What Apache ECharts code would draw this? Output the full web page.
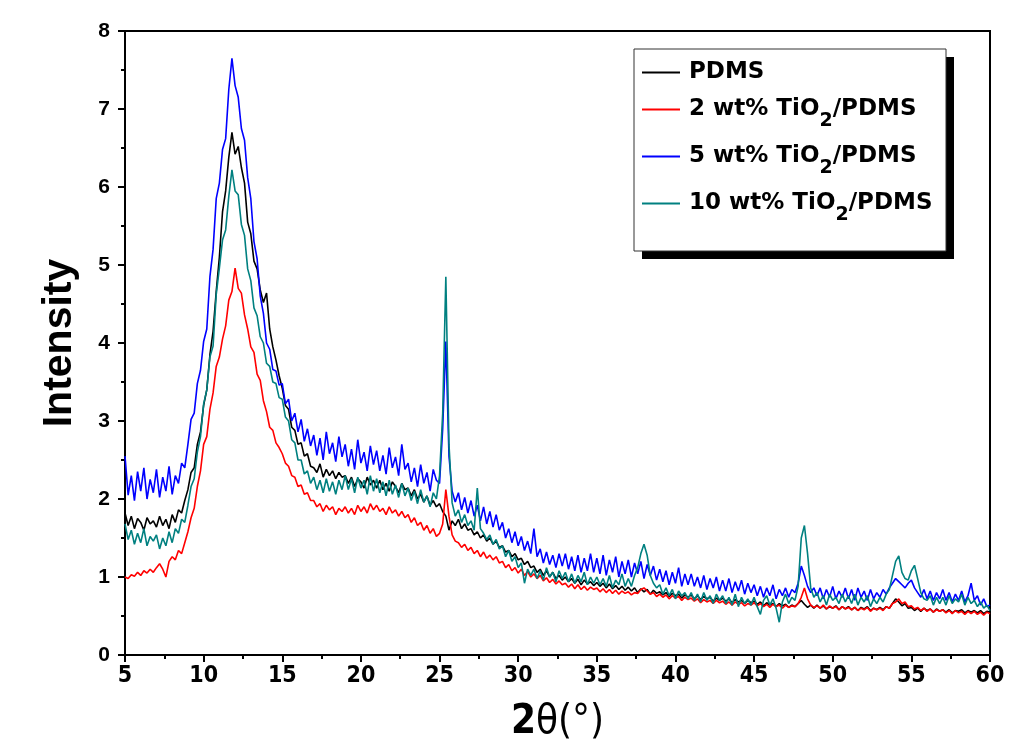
<!DOCTYPE html>
<html>
<head>
<meta charset="utf-8">
<script src="https://cdn.jsdelivr.net/npm/echarts@6/dist/echarts.min.js"></script>
<style>
html,body{margin:0;padding:0;background:#ffffff;}
#chart{width:1012px;height:751px;}
</style>
</head>
<body>
<div id="chart"></div>
<script>
// 2θ sampling grid: 5.0 .. 60.0 step 0.2 (276 points)
const thetaStart = 5;
const thetaStep = 0.2;

const xTicks = [5,10,15,20,25,30,35,40,45,50,55,60];
const yTicks = [0,1,2,3,4,5,6,7,8];

const seriesNames = ['PDMS', '2 wt% TiO2/PDMS', '5 wt% TiO2/PDMS', '10 wt% TiO2/PDMS'];
const seriesColors = ['#000000', '#ff0000', '#0000ff', '#008080'];

const pdms = [
1.82,1.66,1.78,1.62,1.75,1.70,1.60,1.76,1.68,1.72,
1.64,1.78,1.66,1.74,1.62,1.80,1.70,1.86,1.82,1.98,
2.12,2.34,2.40,2.70,2.86,3.20,3.40,3.85,4.15,4.66,
5.10,5.68,5.95,6.38,6.70,6.42,6.52,6.25,6.05,5.55,
5.40,5.05,4.95,4.68,4.52,4.64,4.18,3.95,3.78,3.58,
3.42,3.20,3.15,2.92,2.88,2.70,2.72,2.55,2.58,2.42,
2.40,2.34,2.45,2.28,2.38,2.30,2.36,2.26,2.34,2.28,
2.30,2.20,2.28,2.16,2.26,2.22,2.14,2.28,2.18,2.24,
2.14,2.24,2.12,2.20,2.10,2.22,2.16,2.08,2.20,2.12,
2.14,2.04,2.12,2.00,2.06,1.96,2.04,1.92,1.98,1.90,
1.94,1.84,1.78,1.60,1.72,1.66,1.74,1.62,1.68,1.60,
1.62,1.54,1.58,1.50,1.54,1.46,1.50,1.42,1.46,1.38,
1.40,1.32,1.34,1.26,1.30,1.22,1.24,1.16,1.20,1.12,
1.14,1.06,1.10,1.02,1.08,1.00,1.06,0.98,1.02,0.96,
1.00,0.94,0.98,0.92,0.97,0.90,0.96,0.91,0.94,0.89,
0.93,0.88,0.92,0.86,0.91,0.85,0.89,0.84,0.88,0.83,
0.87,0.82,0.86,0.80,0.85,0.81,0.84,0.78,0.83,0.79,
0.81,0.77,0.80,0.75,0.79,0.76,0.78,0.73,0.77,0.74,
0.77,0.72,0.76,0.71,0.75,0.72,0.74,0.69,0.73,0.70,
0.73,0.69,0.72,0.67,0.71,0.68,0.70,0.66,0.70,0.67,
0.69,0.65,0.68,0.63,0.67,0.64,0.66,0.62,0.66,0.63,
0.65,0.61,0.64,0.62,0.66,0.70,0.65,0.61,0.64,0.60,
0.64,0.60,0.63,0.59,0.62,0.60,0.63,0.58,0.62,0.59,
0.62,0.58,0.61,0.57,0.61,0.59,0.62,0.57,0.60,0.58,
0.61,0.58,0.62,0.60,0.66,0.72,0.68,0.63,0.66,0.60,
0.61,0.57,0.60,0.56,0.60,0.57,0.59,0.55,0.59,0.56,
0.58,0.55,0.58,0.54,0.57,0.56,0.58,0.54,0.57,0.55,
0.57,0.54,0.57,0.53,0.56,0.55
];

const tio2_2 = [
1.00,0.98,1.03,1.01,1.06,1.02,1.08,1.05,1.10,1.06,
1.12,1.17,1.10,1.00,1.20,1.26,1.22,1.34,1.30,1.44,
1.58,1.76,1.88,2.16,2.36,2.70,2.80,3.15,3.36,3.70,
3.82,4.05,4.22,4.55,4.66,4.96,4.70,4.64,4.36,4.18,
3.95,3.88,3.60,3.52,3.26,3.12,2.92,2.88,2.72,2.66,
2.58,2.46,2.42,2.30,2.28,2.16,2.18,2.06,2.08,1.98,
1.98,1.90,1.94,1.84,1.92,1.86,1.90,1.80,1.88,1.84,
1.90,1.82,1.88,1.80,1.92,1.84,1.90,1.82,1.94,1.86,
1.92,1.84,1.88,1.80,1.90,1.82,1.86,1.78,1.84,1.76,
1.80,1.70,1.76,1.66,1.70,1.60,1.66,1.56,1.62,1.52,
1.56,1.68,2.12,1.78,1.54,1.46,1.44,1.38,1.42,1.34,
1.38,1.30,1.34,1.26,1.32,1.24,1.28,1.22,1.26,1.18,
1.20,1.12,1.16,1.08,1.12,1.05,1.10,1.02,1.07,1.00,
1.04,0.98,1.02,0.95,0.99,0.93,0.97,0.91,0.95,0.90,
0.92,0.87,0.91,0.85,0.90,0.84,0.88,0.83,0.87,0.84,
0.86,0.81,0.85,0.80,0.84,0.79,0.83,0.78,0.82,0.79,
0.81,0.77,0.80,0.79,0.84,0.86,0.82,0.78,0.80,0.75,
0.78,0.74,0.77,0.72,0.76,0.73,0.75,0.70,0.74,0.71,
0.73,0.69,0.72,0.67,0.71,0.68,0.70,0.66,0.70,0.67,
0.69,0.65,0.68,0.64,0.68,0.65,0.67,0.63,0.66,0.64,
0.67,0.63,0.66,0.62,0.65,0.61,0.65,0.62,0.64,0.60,
0.64,0.61,0.63,0.62,0.66,0.74,0.86,0.72,0.64,0.61,
0.63,0.60,0.64,0.59,0.63,0.60,0.62,0.58,0.62,0.59,
0.61,0.58,0.61,0.57,0.60,0.58,0.61,0.56,0.60,0.58,
0.60,0.57,0.62,0.60,0.66,0.68,0.72,0.66,0.68,0.62,
0.63,0.59,0.61,0.57,0.60,0.56,0.59,0.55,0.58,0.56,
0.58,0.54,0.57,0.53,0.57,0.54,0.56,0.52,0.56,0.53,
0.56,0.52,0.55,0.51,0.55,0.53
];

const tio2_5 = [
2.55,2.05,2.30,1.98,2.35,2.10,2.40,2.00,2.25,2.08,
2.38,2.02,2.28,2.10,2.42,2.06,2.30,2.20,2.46,2.40,
2.70,3.02,3.10,3.48,3.65,4.02,4.18,4.85,5.20,5.85,
6.05,6.48,6.62,7.25,7.65,7.30,7.15,6.75,6.60,6.12,
5.85,5.30,5.08,4.60,4.38,4.00,3.92,3.66,3.64,3.46,
3.48,3.22,3.28,3.00,3.10,2.86,3.02,2.74,2.90,2.68,
2.82,2.56,2.78,2.50,2.86,2.58,2.72,2.48,2.80,2.54,
2.70,2.42,2.64,2.38,2.76,2.46,2.60,2.36,2.68,2.44,
2.62,2.36,2.56,2.32,2.66,2.40,2.54,2.30,2.70,2.38,
2.46,2.22,2.40,2.16,2.44,2.20,2.34,2.10,2.38,2.24,
2.20,2.90,4.02,2.55,2.10,1.96,2.08,1.86,2.02,1.82,
1.98,1.78,1.92,1.72,1.90,1.68,1.84,1.64,1.80,1.60,
1.70,1.50,1.62,1.44,1.58,1.40,1.52,1.34,1.46,1.30,
1.62,1.26,1.36,1.18,1.32,1.16,1.28,1.12,1.30,1.14,
1.30,1.10,1.26,1.08,1.28,1.06,1.24,1.08,1.30,1.06,
1.24,1.04,1.28,1.02,1.22,1.06,1.26,1.00,1.20,1.04,
1.22,1.00,1.18,1.04,1.20,0.98,1.16,1.02,1.14,0.96,
1.10,0.94,1.08,0.90,1.06,0.92,1.12,0.88,1.04,0.90,
1.04,0.88,1.00,0.86,1.02,0.84,0.98,0.86,1.00,0.82,
0.96,0.82,0.98,0.80,0.94,0.82,0.96,0.78,0.92,0.80,
0.90,0.76,0.88,0.74,0.86,0.76,0.90,0.72,0.84,0.76,
0.86,0.74,0.84,0.80,0.92,1.14,1.02,0.88,0.80,0.86,
0.76,0.86,0.72,0.84,0.74,0.88,0.72,0.82,0.74,0.86,
0.72,0.84,0.70,0.86,0.74,0.82,0.70,0.84,0.72,0.80,
0.74,0.84,0.78,0.86,0.92,0.98,0.94,0.90,0.86,0.92,
0.96,0.86,0.80,0.74,0.84,0.72,0.82,0.70,0.80,0.72,
0.84,0.70,0.80,0.68,0.78,0.70,0.82,0.68,0.76,0.92,
0.70,0.76,0.64,0.72,0.62,0.64
];

const tio2_10 = [
1.68,1.48,1.60,1.42,1.56,1.44,1.62,1.40,1.52,1.46,
1.54,1.36,1.50,1.40,1.58,1.44,1.62,1.56,1.74,1.70,
1.92,2.16,2.26,2.60,2.80,3.22,3.40,3.82,3.96,4.62,
4.96,5.32,5.45,5.88,6.22,5.95,5.90,5.52,5.38,4.95,
4.80,4.45,4.35,4.08,4.00,3.74,3.70,3.50,3.48,3.30,
3.28,3.05,3.00,2.76,2.72,2.50,2.50,2.32,2.36,2.20,
2.28,2.12,2.24,2.08,2.26,2.10,2.22,2.06,2.24,2.12,
2.30,2.12,2.26,2.08,2.28,2.14,2.24,2.06,2.30,2.10,
2.26,2.08,2.22,2.04,2.24,2.06,2.18,2.02,2.20,2.04,
2.14,1.98,2.10,1.94,2.12,1.96,2.04,1.90,2.08,2.00,
2.30,3.10,4.85,2.70,1.95,1.78,1.86,1.70,1.80,1.66,
1.72,1.60,2.14,1.62,1.56,1.48,1.54,1.42,1.48,1.36,
1.40,1.26,1.34,1.20,1.26,1.12,1.18,0.92,1.10,1.02,
1.10,0.98,1.08,0.96,1.12,1.00,1.06,0.94,1.08,0.98,
1.06,0.94,1.04,0.92,1.02,0.94,1.06,0.90,1.00,0.92,
1.00,0.90,0.98,0.88,1.02,0.86,0.96,0.90,1.04,0.88,
0.98,0.88,1.02,1.12,1.30,1.42,1.28,1.02,0.92,0.86,
0.90,0.78,0.86,0.76,0.84,0.72,0.82,0.76,0.80,0.72,
0.80,0.70,0.78,0.68,0.80,0.70,0.76,0.66,0.78,0.70,
0.76,0.66,0.74,0.64,0.78,0.62,0.74,0.66,0.72,0.64,
0.74,0.62,0.52,0.70,0.76,0.64,0.72,0.60,0.42,0.68,
0.78,0.66,0.74,0.70,0.88,1.50,1.66,1.30,0.86,0.74,
0.80,0.68,0.76,0.64,0.78,0.70,0.74,0.66,0.78,0.68,
0.76,0.66,0.78,0.64,0.74,0.68,0.76,0.62,0.72,0.66,
0.74,0.68,0.78,0.84,1.02,1.20,1.27,1.06,0.98,0.96,
1.08,1.15,0.98,0.80,0.72,0.70,0.76,0.64,0.74,0.66,
0.74,0.64,0.76,0.66,0.72,0.68,0.78,0.64,0.74,0.66,
0.70,0.62,0.68,0.60,0.64,0.57
];

const allValues = [pdms, tio2_2, tio2_5, tio2_10];

function pairs(vals) {
  return vals.map((v, i) => [+(thetaStart + thetaStep * i).toFixed(1), v]);
}

const chart = echarts.init(document.getElementById('chart'), null, {renderer: 'canvas'});

const sansBold = "'Liberation Sans', Arial, sans-serif";
const legendFont = "'DejaVu Sans', 'Liberation Sans', sans-serif";
const narrow = "'Liberation Sans Narrow', 'DejaVu Sans Condensed', 'Liberation Sans', sans-serif";

// legend frame (decoration) position
const legendBox = {x: 634, y: 49, w: 312, h: 202, shadow: 8};

const option = {
  animation: false,
  backgroundColor: '#ffffff',
  grid: {
    left: 125, right: 22, top: 31, bottom: 96,
    show: true, borderColor: '#000', borderWidth: 2, backgroundColor: 'transparent'
  },
  graphic: [
    {type: 'rect', z: 50, silent: true,
     shape: {x: legendBox.x + legendBox.shadow, y: legendBox.y + legendBox.shadow, width: legendBox.w, height: legendBox.h},
     style: {fill: '#000'}},
    {type: 'rect', z: 51, silent: true,
     shape: {x: legendBox.x, y: legendBox.y, width: legendBox.w, height: legendBox.h},
     style: {fill: '#fff', stroke: '#333', lineWidth: 1}}
  ],
  legend: {
    z: 60,
    orient: 'vertical',
    left: 634, top: 50,
    data: seriesNames,
    icon: 'rect',
    itemWidth: 38, itemHeight: 2,
    itemGap: 4,
    padding: [11, 8, 8, 8],
    formatter: function (name) {
      const m = name.match(/^(.*TiO)2(\/PDMS)$/);
      if (m) return '{m|' + m[1] + '}{s|2}{m|' + m[2] + '}';
      return '{m|' + name + '}';
    },
    textStyle: {
      padding: [0, 0, 0, 4],
      rich: {
        m: {fontFamily: legendFont, fontWeight: 'bold', fontSize: 23, color: '#000', lineHeight: 26},
        s: {fontFamily: legendFont, fontWeight: 'bold', fontSize: 19, color: '#000', lineHeight: 22, padding: [24, 0, 0, 0]}
      }
    }
  },
  xAxis: {
    type: 'value',
    min: 5, max: 60, interval: 5,
    name: '{b|2}{n|θ(°)}',
    nameLocation: 'middle',
    nameGap: 48,
    nameTextStyle: {
      rich: {
        b: {fontFamily: narrow, fontWeight: 'bold', fontSize: 40, color: '#000'},
        n: {fontFamily: narrow, fontWeight: 'normal', fontSize: 40, color: '#000'}
      }
    },
    axisLine: {show: true, onZero: false, lineStyle: {color: '#000', width: 2}},
    axisTick: {show: true, inside: false, length: 7, lineStyle: {color: '#000', width: 2}},
    minorTick: {show: true, splitNumber: 2, length: 4, lineStyle: {color: '#000', width: 2}},
    splitLine: {show: false},
    axisLabel: {
      margin: 10, color: '#000', fontFamily: narrow, fontWeight: 'bold', fontSize: 23,
      formatter: function (v) { return xTicks.indexOf(v) >= 0 ? String(v) : ''; }
    }
  },
  yAxis: {
    type: 'value',
    min: 0, max: 8, interval: 1,
    name: 'Intensity',
    nameLocation: 'middle',
    nameGap: 45,
    nameTextStyle: {fontFamily: sansBold, fontWeight: 'bold', fontSize: 41, color: '#000'},
    axisLine: {show: true, onZero: false, lineStyle: {color: '#000', width: 2}},
    axisTick: {show: true, inside: false, length: 7, lineStyle: {color: '#000', width: 2}},
    minorTick: {show: true, splitNumber: 2, length: 4, lineStyle: {color: '#000', width: 2}},
    splitLine: {show: false},
    axisLabel: {
      margin: 15, color: '#000', fontFamily: sansBold, fontWeight: 'bold', fontSize: 21,
      formatter: function (v) { return yTicks.indexOf(v) >= 0 ? String(v) : ''; }
    }
  },
  series: seriesNames.map((name, k) => ({
    name: name,
    type: 'line',
    data: pairs(allValues[k]),
    showSymbol: false,
    symbol: 'none',
    color: seriesColors[k],
    lineStyle: {color: seriesColors[k], width: 1.6},
    z: 2 + k
  }))
};

chart.setOption(option);
</script>
</body>
</html>
